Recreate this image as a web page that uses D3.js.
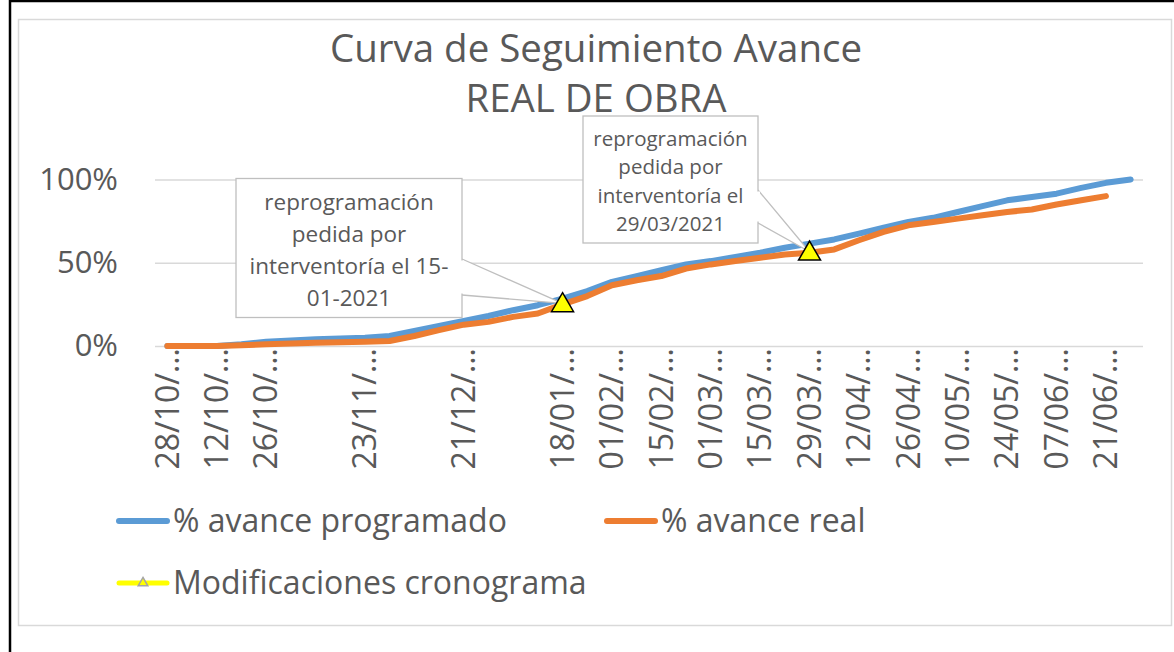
<!DOCTYPE html>
<html><head><meta charset="utf-8">
<script src="https://cdn.jsdelivr.net/npm/d3@7"></script>
<style>
body{margin:0;background:#fff;}
text{font-family:'Open Sans',sans-serif;fill:#595959;}
</style>
</head><body>
<svg id="chart" width="1174" height="652"></svg>
<script>
// ---- data ----
const categories = ["28/10/2020","05/10/2020","12/10/2020","19/10/2020","26/10/2020","02/11/2020","09/11/2020","16/11/2020",
  "23/11/2020","30/11/2020","07/12/2020","14/12/2020","21/12/2020","28/12/2020","04/01/2021","11/01/2021",
  "18/01/2021","25/01/2021","01/02/2021","08/02/2021","15/02/2021","22/02/2021","01/03/2021","08/03/2021",
  "15/03/2021","22/03/2021","29/03/2021","05/04/2021","12/04/2021","19/04/2021","26/04/2021","03/05/2021",
  "10/05/2021","17/05/2021","24/05/2021","31/05/2021","07/06/2021","14/06/2021","21/06/2021","28/06/2021"];
const tickLabels = ["28/10/…","","12/10/…","","26/10/…","","","","23/11/…","","","","21/12/…","","","",
  "18/01/…","","01/02/…","","15/02/…","","01/03/…","","15/03/…","","29/03/…","","12/04/…","",
  "26/04/…","","10/05/…","","24/05/…","","07/06/…","","21/06/…",""];
const programado = [0,0,0,1,2.5,3.3,4,4.5,5,6,9,12,15,18,21.5,24.5,28.5,33,38.5,42,45.5,49,51,53.5,56,59,61.5,64,67.5,71,74.5,77,80.5,84,87.5,89.5,91.5,95,98,100];
const real = [0,0,0,0.5,1,1.5,2,2.3,2.6,3,6,9.5,12.8,14.5,17.5,19.5,25,30,36.5,39.5,42,46.5,49,51,53,55,56,58,63.5,68.5,72.5,74.5,76.5,78.5,80.5,82,85,87.5,90,null];
const modificaciones = categories.map(()=>null);
modificaciones[16] = 25.6;
modificaciones[26] = 56.6;
const yTicks = [0, 50, 100];
const titleLines = ["Curva de Seguimiento Avance", "REAL DE OBRA"];
const seriesNames = ["% avance programado", "% avance real", "Modificaciones cronograma"];
const callout1 = ["reprogramación", "pedida por", "interventoría el 15-", "01-2021"];
const callout2 = ["reprogramación", "pedida por", "interventoría el", "29/03/2021"];

// ---- drawing ----
const svg = d3.select("#chart");
const C = {blue:"#5b9bd5", orange:"#ed7d31", yellow:"#ffff00", grid:"#d9d9d9", text:"#595959"};

// outer frame
svg.append("rect").attr("x",18.5).attr("y",19.5).attr("width",1153).attr("height",606)
  .attr("fill","#fff").attr("stroke","#d9d9d9").attr("stroke-width",1.5);
svg.append("line").attr("x1",10).attr("x2",10).attr("y1",0).attr("y2",652).attr("stroke","#000").attr("stroke-width",2.5);
svg.append("line").attr("x1",9).attr("x2",1174).attr("y1",1).attr("y2",1).attr("stroke","#000").attr("stroke-width",2.5);

const x = d3.scaleBand().domain(d3.range(categories.length)).range([155,1143]);
const xc = i => x(i) + x.bandwidth()/2;
const y = d3.scaleLinear().domain([0,100]).range([346,179.5]);

// title (Calibri-like proportions: taller glyphs fitted to the original width)
const titleWidths = [532, 261];
svg.append("g").selectAll("text").data(titleLines).join("text")
  .attr("x",596).attr("y",(d,i)=>62+i*50).attr("text-anchor","middle")
  .attr("textLength",(d,i)=>titleWidths[i]).attr("lengthAdjust","spacingAndGlyphs")
  .style("font-size","38px").text(d=>d);

// grid + y axis
const yAxis = d3.axisLeft(y).tickValues(yTicks).tickSize(-(1143-155)).tickFormat(d=>d+"%").tickPadding(37);
const gy = svg.append("g").attr("transform","translate(155,0)").call(yAxis);
gy.select(".domain").remove();
gy.selectAll(".tick line").attr("stroke",C.grid).attr("stroke-width",1.5);
gy.selectAll(".tick text").style("font-size","31px").attr("fill",C.text).style("font-family","'Open Sans',sans-serif");

// x axis labels
const xAxis = d3.axisBottom(x).tickSize(0).tickFormat(i=>tickLabels[i]);
const gx = svg.append("g").attr("transform","translate(0,346)").call(xAxis);
gx.select(".domain").remove();
gx.selectAll(".tick text")
  .style("font-size","32px").attr("fill",C.text).style("font-family","'Open Sans',sans-serif")
  .attr("transform","rotate(-90)").attr("text-anchor","end")
  .attr("x",-2).attr("y",0).attr("dy","0.35em");

// lines
const line = d3.line().defined(d=>d!=null).x((d,i)=>xc(i)).y(d=>y(d));
svg.append("path").datum(programado).attr("d",line).attr("fill","none")
  .attr("stroke",C.blue).attr("stroke-width",6).attr("stroke-linecap","round").attr("stroke-linejoin","round");
svg.append("path").datum(real).attr("d",line).attr("fill","none")
  .attr("stroke",C.orange).attr("stroke-width",6).attr("stroke-linecap","round").attr("stroke-linejoin","round");

// callouts
function callout(lines, box, edgeY, idx, fs, lh, firstBase){
  const tipX = xc(idx), tipY = y(modificaciones[idx]);
  const g = svg.append("g");
  g.append("path").attr("d",`M${box.x+box.w},${edgeY[0]}L${tipX},${tipY}L${box.x+box.w},${edgeY[1]}`)
    .attr("fill","#fff").attr("stroke","#bfbfbf").attr("stroke-width",1.3);
  g.append("rect").attr("x",box.x).attr("y",box.y).attr("width",box.w).attr("height",box.h)
    .attr("fill","#fff").attr("stroke","#bfbfbf").attr("stroke-width",1.3);
  g.append("rect").attr("x",box.x+box.w-2).attr("y",edgeY[0]+1.5).attr("width",4).attr("height",edgeY[1]-edgeY[0]-3).attr("fill","#fff");
  g.selectAll("text").data(lines).join("text")
    .attr("x",box.x+box.w/2).attr("y",(d,i)=>firstBase+i*lh).attr("text-anchor","middle")
    .style("font-size",fs+"px").text(d=>d);
}
callout(callout1,{x:236,y:178.5,w:226,h:139},[259,295],16,22.5,32.3,209.5);
callout(callout2,{x:583,y:116,w:175,h:127},[190,223],26,20.5,28.3,146);

// markers
const tri = d3.symbol().type(d3.symbolTriangle).size(210);
svg.append("g").selectAll("path").data(modificaciones.map((v,i)=>({v,i})).filter(d=>d.v!=null)).join("path")
  .attr("d",tri).attr("transform",d=>`translate(${xc(d.i)},${y(d.v)+2})`)
  .attr("fill",C.yellow).attr("stroke","#000").attr("stroke-width",1.5);

// legend
const lg = svg.append("g");
const legendItems = [
  {name:seriesNames[0], color:C.blue, x:116, y:521},
  {name:seriesNames[1], color:C.orange, x:604, y:521},
  {name:seriesNames[2], color:C.yellow, x:116, y:583, marker:true}
];
legendItems.forEach(it=>{
  lg.append("line").attr("x1",it.x+3).attr("x2",it.x+51).attr("y1",it.y).attr("y2",it.y)
    .attr("stroke",it.color).attr("stroke-width",it.marker?5:6).attr("stroke-linecap","round");
  if(it.marker){
    lg.append("path").attr("d",d3.symbol().type(d3.symbolTriangle).size(40))
      .attr("transform",`translate(${it.x+27},${it.y})`).attr("fill",C.yellow).attr("stroke","#a5a5a5").attr("stroke-width",1.5);
  }
  lg.append("text").attr("x",it.x+57).attr("y",it.y+11).style("font-size","32px").text(it.name);
});
</script>
</body></html>
